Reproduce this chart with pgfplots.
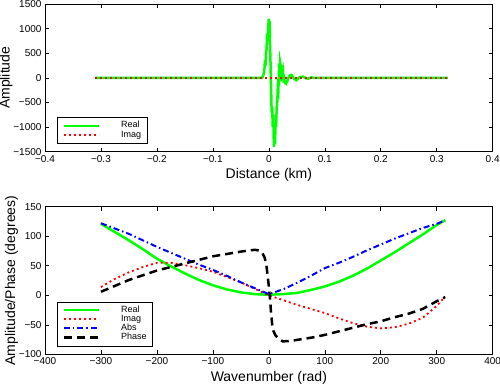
\documentclass[border=0pt]{standalone}
\usepackage{fontspec}
\setmainfont{Liberation Sans}
\usepackage{pgfplots}
\pgfplotsset{compat=1.18}
\definecolor{mgreen}{RGB}{0,255,0}
\definecolor{mred}{RGB}{255,0,0}
\definecolor{mblue}{RGB}{0,0,255}
\pgfplotsset{
  mstyle/.style={
    scale only axis, width=447.7pt, height=147.7pt,
    axis line style={line width=0.8pt},
    tick style={black, line width=0.6pt},
    tick align=inside, major tick length=4pt,
    xtick pos=both, ytick pos=both,
    ticklabel style={font=\fontsize{10}{12}\selectfont},
    label style={font=\fontsize{14}{16}\selectfont},
    xlabel style={at={(axis description cs:0.5,-0.155)}, anchor=center},
    legend cell align=left,
    legend style={at={(axis description cs:0.0275,0.057)}, anchor=south west,
      draw=black, fill=white, inner xsep=5pt, inner ysep=3.5pt,
      row sep=0pt,
      /tikz/every odd column/.append style={column sep=20pt},
      nodes={font=\fontsize{9}{9}\selectfont, inner xsep=1pt, inner ysep=0pt, text height=6.8pt, text depth=2.4pt}},
    legend image code/.code={\draw[##1] (0pt,0pt) -- (35pt,0pt);},
  },
  greal/.style={color=mgreen, line width=2.5pt, solid},
  gimag/.style={color=mred, line width=1.8pt, dash pattern=on 2pt off 3pt},
  gabs/.style={color=mblue, line width=2pt, dash pattern=on 6pt off 3pt on 1.5pt off 3pt},
  gphase/.style={color=black, line width=2.5pt, dash pattern=on 8pt off 5pt},
}
\begin{document}
\begin{tikzpicture}
\path[use as bounding box] (0pt,0pt) rectangle (500pt,-385pt);
\begin{axis}[mstyle, at={(45pt,-4pt)}, anchor=north west,
  xmin=-0.4, xmax=0.4, ymin=-1500, ymax=1500,
  xtick={-0.4,-0.3,-0.2,-0.1,0,0.1,0.2,0.3,0.4},
  xticklabels={−0.4,−0.3,−0.2,−0.1,0,0.1,0.2,0.3,0.4},
  ytick={-1500,-1000,-500,0,500,1000,1500},
  yticklabels={−1500,−1000,−500,0,500,1000,1500},
  xlabel={Distance (km)}, ylabel={Amplitude},
  ylabel style={at={(axis description cs:-0.087,0.5)}, anchor=center, rotate=0},
]
\addplot[greal] coordinates {
(-0.31,0) (-0.2,0) (-0.1,0) (-0.012,0) (-0.010,40) (-0.008,150) (-0.007,350) (-0.006,250)
(-0.005,500) (-0.004,600) (-0.003,900) (-0.002,750) (-0.001,1050) (0.000,1200) (0.001,1000)
(0.0015,1150) (0.002,700) (0.003,300) (0.004,-200) (0.005,-700) (0.006,-600) (0.007,-1000)
(0.008,-750) (0.009,-1400) (0.010,-1250) (0.011,-1350) (0.012,-900) (0.013,-1000) (0.014,-600)
(0.015,-500) (0.016,-200) (0.017,-250) (0.018,100) (0.019,50) (0.020,320) (0.021,250)
(0.022,150) (0.023,250) (0.024,100) (0.025,150) (0.026,-20) (0.027,0) (0.028,-80) (0.029,-100)
(0.030,-90) (0.031,-110) (0.033,-60) (0.035,0) (0.037,40) (0.039,60) (0.041,55) (0.043,20)
(0.045,-20) (0.047,-30) (0.049,-50) (0.051,-30) (0.053,0) (0.055,10) (0.058,20) (0.061,25)
(0.064,5) (0.067,-10) (0.070,-15) (0.073,-5) (0.076,10) (0.079,0) (0.1,0) (0.2,0) (0.32,0)
};
\addlegendentry{Real}
\addplot[gimag] coordinates {(-0.31,0) (0,0) (0.32,0)};
\addlegendentry{Imag}
\end{axis}
\begin{axis}[mstyle, at={(45pt,-206.7pt)}, anchor=north west,
  xmin=-400, xmax=400, ymin=-100, ymax=150,
  xtick={-400,-300,-200,-100,0,100,200,300,400},
  xticklabels={−400,−300,−200,−100,0,100,200,300,400},
  ytick={-100,-50,0,50,100,150},
  yticklabels={−100,−50,0,50,100,150},
  xlabel={Wavenumber (rad)}, ylabel={Amplitude/Phase (degrees)},
  ylabel style={at={(axis description cs:-0.075,0.5)}, anchor=center},
  xlabel style={at={(axis description cs:0.5,-0.162)}},
]
\addplot[greal] coordinates {
(-300,121) (-275,107) (-250,93) (-225,78) (-200,62) (-175,49) (-150,37) (-125,26) (-100,17)
(-75,10) (-50,5) (-25,2) (0,1) (25,2) (50,4) (75,9) (100,15) (125,23) (150,33) (175,45)
(200,59) (225,73) (250,88) (275,103) (300,119) (315,127)
};
\addlegendentry{Real}
\addplot[gimag] coordinates {
(-300,14) (-275,28) (-250,39) (-225,48) (-200,55) (-175,55) (-150,51) (-125,46) (-100,40)
(-75,31) (-50,22) (-25,11) (0,0) (25,-8) (50,-16) (75,-23) (100,-30) (125,-39) (150,-47)
(175,-53) (200,-56) (225,-54) (250,-48) (275,-38) (300,-18) (315,-2)
};
\addlegendentry{Imag}
\addplot[gabs] coordinates {
(-300,122) (-275,113) (-250,104) (-225,93) (-200,82) (-175,72) (-150,62) (-125,52) (-100,43)
(-75,33) (-50,22) (-25,12) (0,2) (25,10) (50,21) (75,33) (100,46) (125,55) (150,65) (175,76)
(200,86) (225,96) (250,105) (275,114) (300,121) (315,127)
};
\addlegendentry{Abs}
\addplot[gphase] coordinates {
(-300,6) (-275,16) (-250,26) (-225,34) (-200,42) (-175,48) (-150,54) (-125,60) (-100,66)
(-75,70) (-50,74) (-35,76) (-25,77) (-18,76) (-12,72) (-8,65) (-5,55) (-3,40) (0,15) (2,-5)
(4,-30) (6,-50) (8,-60) (12,-68) (18,-74) (25,-78) (40,-77) (60,-74) (80,-71) (100,-67)
(125,-61) (150,-55) (175,-49) (200,-44) (225,-37) (250,-31) (275,-23) (300,-10) (315,-3)
};
\addlegendentry{Phase}
\end{axis}
\end{tikzpicture}
\end{document}
